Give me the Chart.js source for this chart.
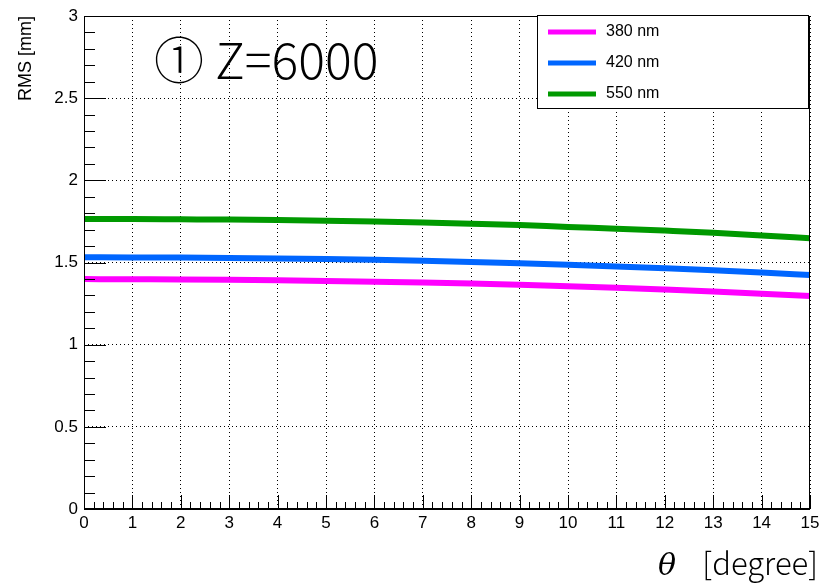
<!DOCTYPE html>
<html>
<head>
<meta charset="utf-8">
<script src="https://cdn.jsdelivr.net/npm/chart.js@4/dist/chart.umd.min.js"></script>
<style>
    html, body { margin: 0; padding: 0; background: #fff; }
    #wrap { width: 820px; height: 587px; }
</style>
</head>
<body>
<div id="wrap"><canvas id="c" width="820" height="587"></canvas></div>
<script>
// theta in degree
var angles = [0, 1, 2, 3, 4, 5, 6, 7, 8, 9, 10, 11, 12, 13, 14, 15];
// RMS [mm] per wavelength
var rms380 = [1.399, 1.398, 1.397, 1.395, 1.392, 1.388, 1.383, 1.378, 1.372, 1.364, 1.355, 1.346, 1.335, 1.323, 1.310, 1.296];
var rms420 = [1.532, 1.531, 1.530, 1.528, 1.525, 1.521, 1.516, 1.510, 1.503, 1.495, 1.486, 1.476, 1.465, 1.453, 1.439, 1.424];
var rms550 = [1.765, 1.765, 1.763, 1.761, 1.758, 1.754, 1.749, 1.743, 1.736, 1.728, 1.716, 1.706, 1.694, 1.681, 1.665, 1.647];
var seriesNames = ["380 nm", "420 nm", "550 nm"];
var seriesColors = ["#ff00ff", "#0066ff", "#009900"];

function toPoints(vals) {
    var pts = [];
    for (var i = 0; i < angles.length; i++) {
        pts.push({x: angles[i], y: vals[i]});
    }
    return pts;
}

var datasets = [rms380, rms420, rms550].map(function(vals, i) {
    return {
        label: seriesNames[i],
        data: toPoints(vals),
        borderColor: seriesColors[i],
        borderWidth: 6,
        pointRadius: 0,
        cubicInterpolationMode: "monotone",
        fill: false
    };
});

// ROOT-like frame, inner ticks, texts and legend box
var rootLook = {
    id: "rootLook",
    afterDraw: function(chart) {
        var ctx = chart.ctx;
        var area = chart.chartArea;
        var xs = chart.scales.x, ys = chart.scales.y;
        ctx.save();
        ctx.strokeStyle = "#000";
        ctx.lineWidth = 1;
        ctx.setLineDash([]);
        ctx.strokeRect(area.left + 0.5, area.top + 0.5, area.right - area.left - 1, area.bottom - area.top);

        // y ticks
        ctx.beginPath();
        for (var k = 0; k <= 30; k++) {
            var py = Math.round(ys.getPixelForValue(k / 10)) + 0.5;
            var len = (k % 5 == 0) ? 22 : 11;
            ctx.moveTo(area.left, py);
            ctx.lineTo(area.left + len, py);
        }
        // x ticks
        for (var j = 0; j <= 75; j++) {
            var px = Math.round(xs.getPixelForValue(j / 5)) + 0.5;
            var l2 = (j % 5 == 0) ? 14 : 7;
            ctx.moveTo(px, area.bottom);
            ctx.lineTo(px, area.bottom - l2);
        }
        ctx.stroke();

        // bottom axis a bit heavier
        ctx.lineWidth = 2;
        ctx.beginPath();
        ctx.moveTo(area.left, area.bottom);
        ctx.lineTo(area.right, area.bottom);
        ctx.stroke();

        // title
        ctx.fillStyle = "#000";
        ctx.textAlign = "left";
        ctx.textBaseline = "alphabetic";
        ctx.font = "300 50px 'Noto Sans CJK JP'";
        ctx.fillText("\u2460 Z=6000", 154, 79);

        // x title
        ctx.font = "300 31px 'Noto Sans CJK JP'";
        ctx.textAlign = "right";
        ctx.fillText("[degree]", 818, 575);
        ctx.textAlign = "left";
        ctx.font = "italic 30px 'DejaVu Serif'";
        ctx.fillText("\u03b8", 658, 575);

        // y title
        ctx.save();
        ctx.translate(26, 16);
        ctx.rotate(-Math.PI / 2);
        ctx.font = "18px 'Liberation Sans'";
        ctx.textAlign = "right";
        ctx.textBaseline = "middle";
        ctx.fillText("RMS [mm]", 0, 0);
        ctx.restore();

        // legend
        ctx.fillStyle = "#fff";
        ctx.fillRect(538, 15, 271, 93);
        ctx.lineWidth = 1;
        ctx.strokeStyle = "#000";
        ctx.strokeRect(537.5, 15.5, 271, 93);
        ctx.font = "16px 'Liberation Sans'";
        ctx.textAlign = "left";
        ctx.textBaseline = "middle";
        for (var s = 0; s < seriesNames.length; s++) {
            var ly = 32 + s * 31;
            ctx.strokeStyle = seriesColors[s];
            ctx.lineWidth = 5;
            ctx.beginPath();
            ctx.moveTo(548, ly);
            ctx.lineTo(596, ly);
            ctx.stroke();
            ctx.fillStyle = "#000";
            ctx.fillText(seriesNames[s], 606, ly);
        }
        ctx.restore();
    }
};

new Chart(document.getElementById("c"), {
    type: "line",
    data: {datasets: datasets},
    plugins: [rootLook],
    options: {
        responsive: false,
        animation: false,
        layout: {padding: {top: 16, right: 10, left: 0, bottom: 0}},
        plugins: {legend: {display: false}, tooltip: {enabled: false}},
        scales: {
            x: {
                type: "linear",
                min: 0,
                max: 15,
                afterFit: function(s) { s.height = 78; s.paddingLeft = 0; s.paddingRight = 0; },
                ticks: {stepSize: 1, autoSkip: false, maxRotation: 0, padding: 4, color: "#000",
                    font: {family: "'Liberation Sans'", size: 17}},
                grid: {color: "#000", lineWidth: 1, drawTicks: false},
                border: {display: false, dash: [1, 3]}
            },
            y: {
                min: 0,
                max: 3,
                afterFit: function(s) { s.width = 84; s.paddingTop = 0; s.paddingBottom = 0; },
                ticks: {stepSize: 0.5, padding: 6, color: "#000",
                    font: {family: "'Liberation Sans'", size: 17},
                    callback: function(v) { return String(v); }},
                grid: {color: "#000", lineWidth: 1, drawTicks: false},
                border: {display: false, dash: [1, 3]}
            }
        }
    }
});
</script>
</body>
</html>
